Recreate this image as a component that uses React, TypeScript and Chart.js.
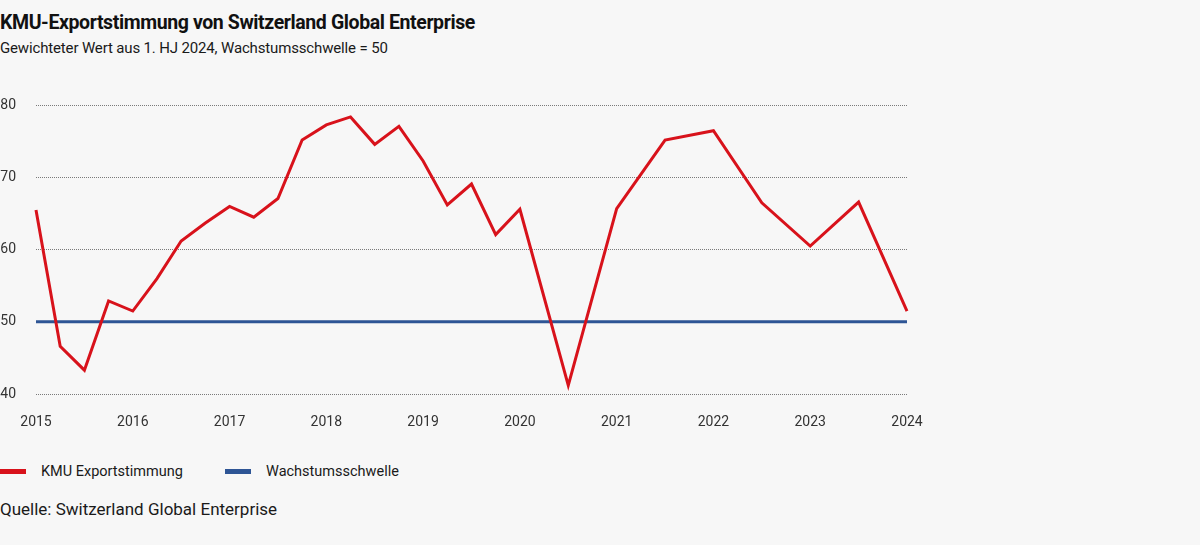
import React, { useEffect, useRef } from "react";
import { Chart, registerables } from "chart.js";

Chart.register(...registerables);

const TITLE = "KMU-Exportstimmung von Switzerland Global Enterprise";
const SUBTITLE = "Gewichteter Wert aus 1. HJ 2024, Wachstumsschwelle = 50";
const SOURCE = "Quelle: Switzerland Global Enterprise";

const SERIES_LABELS = ["KMU Exportstimmung", "Wachstumsschwelle"];
const SERIES_COLORS = ["#d8121b", "#2e5595"];

// Time in fractional years (vertices of the line)
const periods = [
  2015, 2015.25, 2015.5, 2015.75,
  2016, 2016.25, 2016.5, 2016.75,
  2017, 2017.25, 2017.5, 2017.75,
  2018, 2018.25, 2018.5, 2018.75,
  2019, 2019.25, 2019.5, 2019.75,
  2020, 2020.5,
  2021, 2021.5,
  2022, 2022.5,
  2023, 2023.5,
  2024,
];
const sentiment = [
  65.5, 46.6, 43.3, 52.9,
  51.5, 56.0, 61.2, 63.7,
  66.0, 64.5, 67.1, 75.2,
  77.3, 78.4, 74.6, 77.1,
  72.3, 66.2, 69.1, 62.1,
  65.6, 41.2,
  65.7, 75.2,
  76.5, 66.5,
  60.5, 66.6,
  51.5,
];
const thresholdPeriods = [2015, 2024];
const thresholdValues = [50, 50];

const yTicks = [40, 50, 60, 70, 80];
const xTicks = [2015, 2016, 2017, 2018, 2019, 2020, 2021, 2022, 2023, 2024];

const FONT = "Roboto, 'Noto Sans', sans-serif";

export default function App() {
  const ref = useRef<HTMLCanvasElement | null>(null);

  useEffect(() => {
    if (!ref.current) return;
    const chart = new Chart(ref.current, {
      type: "line",
      data: {
        datasets: [
          {
            label: SERIES_LABELS[1],
            data: thresholdPeriods.map((x, i) => ({ x, y: thresholdValues[i] })),
            borderColor: SERIES_COLORS[1],
            backgroundColor: SERIES_COLORS[1],
            borderWidth: 3,
            pointRadius: 0,
            tension: 0,
            order: 2,
          },
          {
            label: SERIES_LABELS[0],
            data: periods.map((x, i) => ({ x, y: sentiment[i] })),
            borderColor: SERIES_COLORS[0],
            backgroundColor: SERIES_COLORS[0],
            borderWidth: 3,
            pointRadius: 0,
            tension: 0,
            borderJoinStyle: "miter",
            order: 1,
          },
        ],
      },
      options: {
        animation: false,
        responsive: false,
        clip: false as any,
        layout: { padding: { left: 0, right: 293, top: 0, bottom: 0 } },
        plugins: {
          legend: { display: false },
          title: { display: false },
          tooltip: { enabled: false },
        },
        scales: {
          x: {
            type: "linear",
            min: 2015,
            max: 2024,
            afterFit: (s: any) => {
              s.height = 46;
            },
            afterBuildTicks: (s: any) => {
              s.ticks = xTicks.map((v) => ({ value: v }));
            },
            grid: { display: false, drawTicks: false },
            border: { display: false },
            ticks: {
              padding: 20,
              color: "#333",
              font: { family: FONT, size: 14 },
              maxRotation: 0,
              autoSkip: false,
              callback: (v: any) => String(v),
            },
          },
          y: {
            min: 40,
            max: 80,
            afterFit: (s: any) => {
              s.width = 36;
            },
            afterBuildTicks: (s: any) => {
              s.ticks = yTicks.map((v) => ({ value: v }));
            },
            grid: {
              drawTicks: false,
              color: "#7a7a7a",
              lineWidth: 1,
            },
            border: { display: false, dash: [1, 1] },
            ticks: {
              padding: 20,
              color: "#333",
              font: { family: FONT, size: 14 },
              callback: (v: any) => String(v),
            },
          },
        },
      },
    });
    return () => chart.destroy();
  }, []);

  const text = (
    content: string,
    top: number,
    left: number,
    size: number,
    lh: number,
    weight: number | string = 400,
    color = "#1a1a1a",
    spacing = 0
  ) => (
    <div
      style={{
        position: "absolute",
        top,
        left,
        fontSize: size,
        lineHeight: `${lh}px`,
        fontWeight: weight as any,
        color,
        fontFamily: FONT,
        whiteSpace: "nowrap",
        letterSpacing: spacing,
      }}
    >
      {content}
    </div>
  );

  return (
    <div
      style={{
        position: "fixed",
        left: 0,
        top: 0,
        width: 1200,
        height: 545,
        background: "#f7f7f7",
        overflow: "hidden",
      }}
    >
      {text(TITLE, 11, 0, 19.5, 24, 700, "#111", -0.4)}
      {text(SUBTITLE, 38, 0, 15, 20, 400, "#1a1a1a", -0.15)}
      <div style={{ position: "absolute", left: 0, top: 77, width: 1200, height: 363 }}>
        <canvas ref={ref} width={1200} height={363} style={{ width: 1200, height: 363, display: "block" }} />
      </div>
      <div style={{ position: "absolute", left: 0, top: 469, width: 26, height: 5, background: SERIES_COLORS[0] }} />
      {text(SERIES_LABELS[0], 462, 41, 14.5, 20)}
      <div style={{ position: "absolute", left: 225, top: 469, width: 26, height: 5, background: SERIES_COLORS[1] }} />
      {text(SERIES_LABELS[1], 462, 266, 14.5, 20)}
      {text(SOURCE, 499, 0, 17, 20)}
    </div>
  );
}
